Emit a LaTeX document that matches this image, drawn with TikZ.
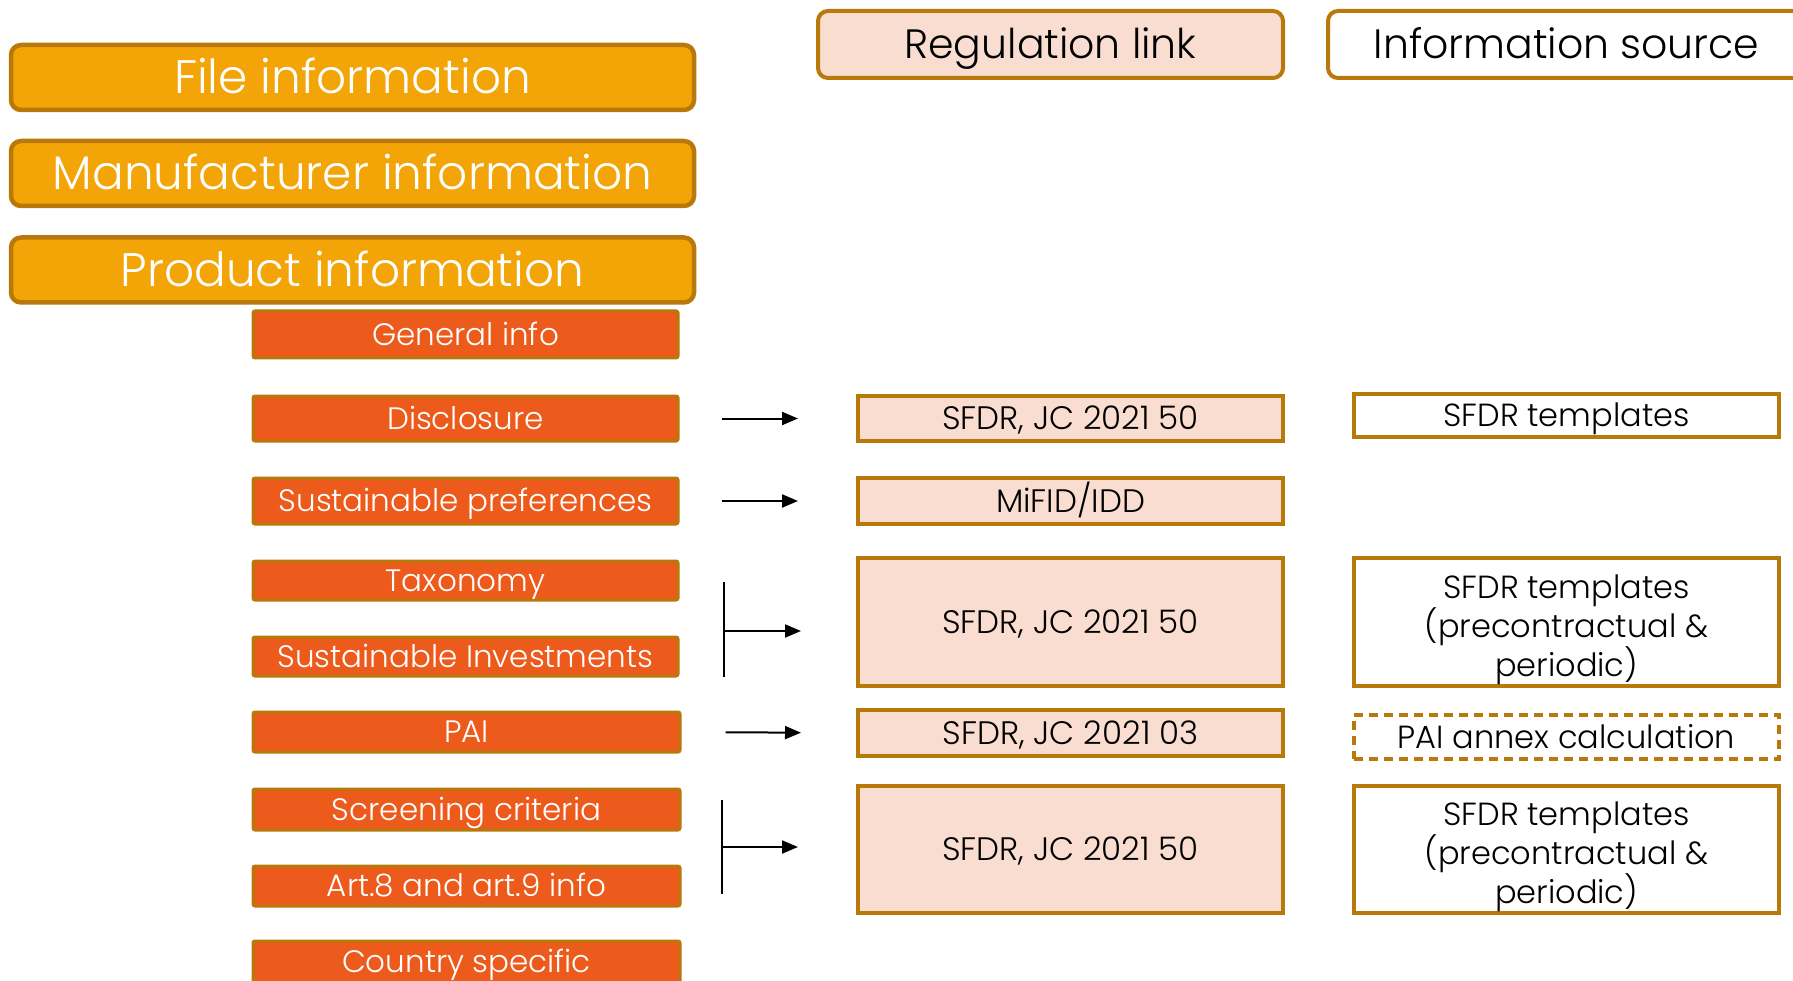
\documentclass[tikz,border=0pt]{standalone}
\usepackage{fontspec}
\setmainfont{Poppins}[UprightFont=* Light]
\usetikzlibrary{arrows.meta}
\definecolor{gold}{HTML}{F3A507}
\definecolor{goldline}{HTML}{B8780A}
\definecolor{orangered}{HTML}{EC5A1C}
\definecolor{pinkfill}{HTML}{FADDD1}
\newcommand{\threelines}[3]{\parbox{400pt}{\vspace*{15pt}\centering #1\\#2\\#3}}
\tikzset{
 titlebox/.style={draw=goldline, line width=4.5pt, fill=gold, rounded corners=10pt, text=white, font=\fontsize{47}{56}\selectfont, minimum width=683pt, minimum height=65pt, inner sep=0pt, text height=33pt, text depth=0pt},
 headbox/.style={draw=goldline, line width=4pt, rounded corners=10pt, font=\fontsize{41}{49}\selectfont, minimum height=67pt, inner sep=0pt, text height=28pt, text depth=0pt},
 itembox/.style={draw=goldline, line width=3pt, fill=orangered, rounded corners=2pt, text=white, font=\fontsize{31}{37}\selectfont, minimum width=425pt, inner sep=0pt, text height=21.5pt, text depth=0pt},
 regbox/.style={draw=goldline, line width=4pt, fill=pinkfill, font=\fontsize{32.5}{38}\selectfont, minimum width=425pt, inner sep=0pt, text height=22pt, text depth=0pt},
 srcbox/.style={draw=goldline, line width=4pt, fill=white, font=\fontsize{32}{38}\selectfont, minimum width=425pt, inner sep=0pt},
 onecap/.style={text height=22pt, text depth=0pt},
 conn/.style={line width=2pt, -{Triangle[length=16pt,width=13pt]}}
}
\begin{document}
\begin{tikzpicture}[x=1pt,y=-1pt]
\useasboundingbox (0,0) rectangle (1793,981);
% titles
\node[titlebox] (file) at (352.5,77.5) {File information};
\node[titlebox] (manu) at (352.5,173.5) {Manufacturer information};
\node[titlebox] (prod) at (352.5,270) {Product information};
\node[headbox, fill=pinkfill, minimum width=465pt] (reghead) at (1050.5,44.5) {Regulation link};
\node[headbox, fill=white, minimum width=477pt] (srchead) at (1566.5,44.5) {Information source};
% items
\node[itembox, minimum height=47pt] (gen) at (465.5,334.5) {General info};
\node[itembox, minimum height=45pt] (disc) at (465.5,418.5) {Disclosure};
\node[itembox, minimum height=46pt] (pref) at (465.5,501) {Sustainable preferences};
\node[itembox, minimum height=39pt] (tax) at (465.5,580.5) {Taxonomy};
\node[itembox, minimum height=39pt] (inv) at (465.5,656.5) {Sustainable Investments};
\node[itembox, minimum height=40pt, minimum width=427pt] (pai) at (466.5,732) {PAI};
\node[itembox, minimum height=41pt, minimum width=427pt] (scr) at (466.5,809.5) {Screening criteria};
\node[itembox, minimum height=40pt, minimum width=427pt] (art) at (466.5,886) {Art.8 and art.9 info};
\node[itembox, minimum height=42pt, minimum width=427pt] (ctry) at (466.5,962) {Country specific};
% regulation
\node[regbox, minimum height=45pt] (reg1) at (1070.5,418.5) {SFDR, JC 2021 50};
\node[regbox, minimum height=46pt] (reg2) at (1070.5,501) {MiFID/IDD};
\node[regbox, minimum height=128pt] (reg3) at (1070.5,622) {SFDR, JC 2021 50};
\node[regbox, minimum height=46pt] (reg4) at (1070.5,733) {SFDR, JC 2021 03};
\node[regbox, minimum height=127pt] (reg5) at (1070.5,849.5) {SFDR, JC 2021 50};
% sources
\node[srcbox, minimum height=43pt, onecap] (src1) at (1566.5,415.5) {SFDR templates};
\node[srcbox, minimum height=128pt] (src2) at (1566.5,622) {\threelines{SFDR templates}{(precontractual \&}{periodic)}};
\node[srcbox, minimum height=44pt, onecap, dashed, dash pattern=on 9pt off 6pt] (src3) at (1566.5,737) {PAI annex calculation};
\node[srcbox, minimum height=127pt] (src4) at (1566.5,849.5) {\threelines{SFDR templates}{(precontractual \&}{periodic)}};
% connectors
\draw[conn, shorten <=42pt, shorten >=58pt] (disc.east) -- (reg1.west);
\draw[conn, shorten <=42pt, shorten >=58pt] (pref.east) -- (reg2.west);
\draw[conn, shorten <=44pt, shorten >=55pt] (pai.east) -- (reg4.west);
\coordinate (b1top) at (724,582);
\coordinate (b1bot) at (724,677);
\coordinate (b1mid) at (724,631);
\draw[line width=2pt] (b1top) -- (b1bot);
\draw[conn, shorten >=55pt] (b1mid) -- (b1mid -| reg3.west);
\coordinate (b2top) at (722,800);
\coordinate (b2bot) at (722,894);
\coordinate (b2mid) at (722,847);
\draw[line width=2pt] (b2top) -- (b2bot);
\draw[conn, shorten >=58pt] (b2mid) -- (b2mid -| reg5.west);
\end{tikzpicture}
\end{document}
